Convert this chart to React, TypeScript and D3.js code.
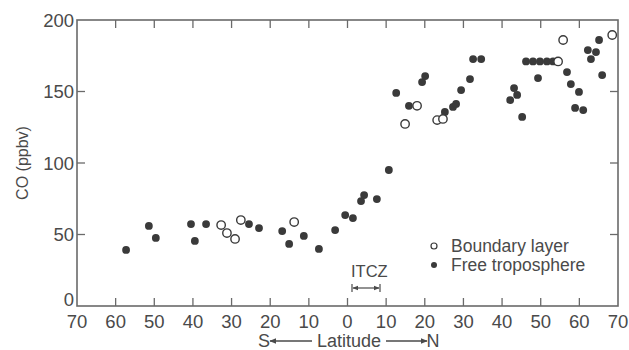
import React from "react";
import * as d3 from "d3";

const freeLat = [-57.3, -51.4, -49.6, -40.5, -39.5, -36.6, -25.5, -22.9, -16.9, -15.1, -11.3, -7.4, -3.2, -0.6, 1.4, 3.5, 4.3, 7.6, 10.7, 12.6, 15.9, 19.3, 20.1, 25.2, 27.3, 28.1, 29.4, 31.7, 32.5, 34.6, 42.1, 43.1, 43.9, 45.2, 46.2, 48.0, 49.8, 51.6, 53.2, 49.3, 56.8, 57.8, 59.9, 58.9, 61.0, 62.2, 64.3, 63.0, 65.1, 65.9];
const freeCO = [39.2, 56, 47.6, 57.3, 45.5, 57.3, 57.3, 54.5, 52.4, 43.4, 49, 39.9, 53.1, 63.6, 61.5, 73.4, 77.6, 74.8, 95.1, 149, 140, 156.6, 160.8, 135.7, 139.2, 141.3, 151, 158.7, 172.7, 172.7, 144, 152.4, 147.6, 132.2, 171, 171, 171, 171, 171, 159.4, 163.6, 155.2, 149.7, 138.5, 137, 179, 177.6, 172.7, 186, 161.5];

const boundaryLat = [-32.7, -31.2, -29.1, -27.6, -13.8, 18.0, 14.9, 23.2, 24.7, 54.5, 55.8, 68.5];
const boundaryCO = [56.6, 51, 46.9, 60.1, 58.7, 140, 127.3, 130, 130.8, 171, 186, 189.5];

const xTicks = [-70, -60, -50, -40, -30, -20, -10, 0, 10, 20, 30, 40, 50, 60, 70];
const yTicks = [0, 50, 100, 150, 200];

const W = 629, H = 350;
const L = 77, R = 618, T = 20, B = 306;
const axisColor = "#6a6a6a";
const textColor = "#4a4a4a";
const dotColor = "#3a3a3a";
const font = "'Liberation Sans', Arial, sans-serif";

export default function App() {
  const x = d3.scaleLinear().domain([-70, 70]).range([L, R]);
  const y = d3.scaleLinear().domain([0, 200]).range([B, T]);
  const tl = 8;
  return (
    <svg width={W} height={H} style={{ position: "absolute", left: 0, top: 0, background: "#fff" }} fontFamily={font}>
      <defs>
        <marker id="ah" viewBox="0 0 10 10" refX="9" refY="5" markerWidth="7" markerHeight="7" orient="auto-start-reverse" markerUnits="userSpaceOnUse">
          <path d="M0,1 L10,5 L0,9 z" fill={textColor} />
        </marker>
        <marker id="sh" viewBox="0 0 10 10" refX="9" refY="5" markerWidth="6" markerHeight="6" orient="auto-start-reverse" markerUnits="userSpaceOnUse">
          <path d="M0,1 L10,5 L0,9 z" fill={textColor} />
        </marker>
      </defs>
      <rect x={L} y={T} width={R - L} height={B - T} fill="none" stroke={axisColor} strokeWidth={1.6} />
      {xTicks.slice(1, -1).map((t) => (
        <g key={"xt" + t} stroke={axisColor} strokeWidth={1.3}>
          <line x1={x(t)} x2={x(t)} y1={B} y2={B - tl} />
          <line x1={x(t)} x2={x(t)} y1={T} y2={T + tl} />
        </g>
      ))}
      {yTicks.slice(1, -1).map((t) => (
        <g key={"yt" + t} stroke={axisColor} strokeWidth={1.3}>
          <line x1={L} x2={L + tl} y1={y(t)} y2={y(t)} />
          <line x1={R} x2={R - tl} y1={y(t)} y2={y(t)} />
        </g>
      ))}
      {xTicks.map((t) => (
        <text key={"xl" + t} x={x(t)} y={328} textAnchor="middle" fontSize={18.5} fill={textColor}>
          {Math.abs(t)}
        </text>
      ))}
      {yTicks.map((t) => (
        <text key={"yl" + t} x={74} y={y(t) - (t === 0 ? 7 : 0)} dy="0.36em" textAnchor="end" fontSize={18.5} fill={textColor}>
          {t}
        </text>
      ))}
      <text transform={`translate(28,163) rotate(-90)`} textAnchor="middle" fontSize={16} fill={textColor}>
        CO (ppbv)
      </text>
      <text x={264} y={347} textAnchor="middle" fontSize={18} fill={textColor}>S</text>
      <line x1={312} x2={270} y1={341} y2={341} stroke={textColor} strokeWidth={1.3} markerEnd="url(#ah)" />
      <text x={349} y={347} textAnchor="middle" fontSize={18} fill={textColor}>Latitude</text>
      <line x1={386} x2={427} y1={341} y2={341} stroke={textColor} strokeWidth={1.3} markerEnd="url(#ah)" />
      <text x={433} y={347} textAnchor="middle" fontSize={18} fill={textColor}>N</text>

      <text x={351} y={277} fontSize={16.5} fill={textColor}>ITCZ</text>
      <g stroke={textColor} strokeWidth={1.2}>
        <line x1={352} x2={352} y1={284} y2={292} />
        <line x1={380} x2={380} y1={284} y2={292} />
        <line x1={366} x2={353} y1={288} y2={288} markerEnd="url(#sh)" />
        <line x1={366} x2={379} y1={288} y2={288} markerEnd="url(#sh)" />
      </g>

      {freeLat.map((d, i) => (
        <circle key={"f" + i} cx={x(d)} cy={y(freeCO[i])} r={3.9} fill={dotColor} />
      ))}
      {boundaryLat.map((d, i) => (
        <circle key={"b" + i} cx={x(d)} cy={y(boundaryCO[i])} r={4.2} fill="#fff" stroke={dotColor} strokeWidth={1.4} />
      ))}

      <circle cx={434} cy={246} r={3} fill="#fff" stroke={dotColor} strokeWidth={1.2} />
      <text x={451} y={252} fontSize={17.5} fill={textColor}>Boundary layer</text>
      <circle cx={434} cy={265} r={3} fill={dotColor} />
      <text x={451} y={271} fontSize={17.5} fill={textColor}>Free troposphere</text>
    </svg>
  );
}
